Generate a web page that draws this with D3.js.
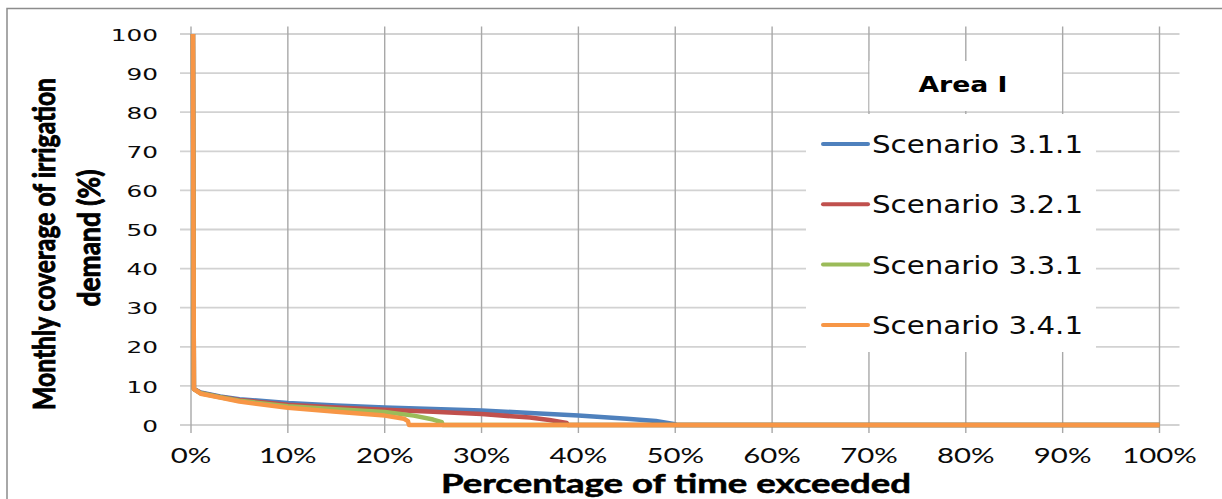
<!DOCTYPE html>
<html>
<head>
<meta charset="utf-8">
<script src="https://cdn.jsdelivr.net/npm/d3@7/dist/d3.min.js"></script>
<style>
html,body{margin:0;padding:0;background:#fff;}
svg{display:block;}
</style>
</head>
<body>
<svg id="chart" width="1222" height="499"></svg>
<script>
// ---- data ----
const xTicks = [0,10,20,30,40,50,60,70,80,90,100];
const yTicks = [0,10,20,30,40,50,60,70,80,90,100];
const seriesNames = ["Scenario 3.1.1","Scenario 3.2.1","Scenario 3.3.1","Scenario 3.4.1"];
const seriesColors = ["#4f81bd","#c0504d","#9bbb59","#f79646"];
// [percentage of time exceeded, monthly coverage %]
const s311 = [[0.2,100],[0.3,9.2],[1,8.3],[3,7.3],[5,6.6],[10,5.6],[15,5.0],[20,4.5],[25,4.1],[30,3.7],[35,3.1],[40,2.4],[45,1.6],[48,1.0],[50,0.2],[50.1,0],[100,0]];
const s321 = [[0.2,100],[0.3,9.2],[1,8.2],[3,7.2],[5,6.4],[10,5.2],[15,4.5],[20,3.9],[25,3.4],[30,2.8],[35,1.9],[37,1.3],[38.8,0.5],[38.9,0],[100,0]];
const s331 = [[0.2,100],[0.3,9.2],[1,8.1],[3,7.1],[5,6.2],[10,4.8],[15,4.0],[20,3.3],[23,2.4],[25,1.4],[25.9,0.7],[26,0],[100,0]];
const s341 = [[0.2,100],[0.3,9.2],[1,8.0],[3,7.0],[5,6.0],[10,4.4],[15,3.4],[20,2.4],[22,1.6],[22.4,1.0],[22.5,0],[100,0]];
const allSeries = [s311,s321,s331,s341];

// ---- layout ----
const svg = d3.select("#chart");
const x = d3.scaleLinear().domain([0,100]).range([191,1159.5]);
const y = d3.scaleLinear().domain([0,100]).range([425,34]);

// outer frame
svg.append("rect").attr("x",7).attr("y",8.5).attr("width",1240).attr("height",600)
  .attr("fill","none").attr("stroke","#8c8c8c").attr("stroke-width",1.5);

// horizontal gridlines
svg.append("g").selectAll("line").data(yTicks).join("line")
  .attr("x1",180).attr("x2",1179.5)
  .attr("y1",d=>y(d)).attr("y2",d=>y(d))
  .attr("stroke","#d2d2d2").attr("stroke-width",1.8);
// vertical gridlines
svg.append("g").selectAll("line").data(xTicks).join("line")
  .attr("x1",d=>x(d)).attr("x2",d=>x(d))
  .attr("y1",26.5).attr("y2",433)
  .attr("stroke","#a8a8a8").attr("stroke-width",1.4);

function stext(parent, px, py, str, opts){
  const t = parent.append("text")
    .attr("transform",`translate(${px},${py}) scale(${opts.sx||1},1)` + (opts.rot?` rotate(${opts.rot})`:""))
    .attr("font-family",opts.font)
    .attr("font-size",opts.size)
    .attr("font-weight",opts.weight||"normal")
    .attr("text-anchor",opts.anchor||"start")
    .attr("fill",opts.fill||"#111")
    .text(str);
  if(opts.len){ t.attr("textLength",opts.len).attr("lengthAdjust","spacingAndGlyphs"); }
  if(opts.stroke){ t.attr("stroke",opts.fill||"#111").attr("stroke-width",opts.stroke); }
  return t;
}

// y tick labels
const gy = svg.append("g");
yTicks.forEach(v=>stext(gy,158,y(v)+6.6,String(v),{font:"DejaVu Sans",size:16,sx:1.55,anchor:"end",fill:"#0a0a0a"}));
// x tick labels
const gx = svg.append("g");
xTicks.forEach(v=>stext(gx,x(v),463,v+"%",{font:"Lato",size:21,sx:1.4,anchor:"middle",fill:"#0a0a0a"}));

// lines
const line = d3.line().x(d=>x(d[0])).y(d=>y(d[1]));
svg.append("g").selectAll("path").data(allSeries).join("path")
  .attr("d",line)
  .attr("fill","none")
  .attr("stroke",(d,i)=>seriesColors[i])
  .attr("stroke-width",4.5)
  .attr("stroke-linejoin","round");

// title box
svg.append("rect").attr("x",869.5).attr("y",61).attr("width",192.5).attr("height",50).attr("fill","#fff");
stext(svg,963,92,"Area I",{font:"DejaVu Sans",size:21,weight:"bold",sx:1.27,anchor:"middle",fill:"#000"});

// legend box
svg.append("rect").attr("x",806).attr("y",114).attr("width",290).attr("height",238).attr("fill","#fff");
const lg = svg.append("g");
seriesNames.forEach((n,i)=>{
  const cy = 144 + i*60.3;
  lg.append("line").attr("x1",823).attr("x2",868).attr("y1",cy).attr("y2",cy)
    .attr("stroke",seriesColors[i]).attr("stroke-width",4).attr("stroke-linecap","round");
  stext(lg,872,cy+9,n,{font:"DejaVu Sans",size:24,sx:1.22,anchor:"start",fill:"#0a0a0a"});
});

// axis titles
stext(svg,676,493,"Percentage of time exceeded",{font:"Lato",size:26,weight:"bold",anchor:"middle",len:470,fill:"#000",stroke:0.5});
stext(svg,55,244,"Monthly coverage of irrigation",{font:"Lato",size:20,weight:"bold",anchor:"middle",sx:1.55,rot:-90,len:332,fill:"#000",stroke:0.6});
stext(svg,100,238,"demand (%)",{font:"Lato",size:20,weight:"bold",anchor:"middle",sx:1.55,rot:-90,len:137,fill:"#000",stroke:0.6});
</script>
</body>
</html>
